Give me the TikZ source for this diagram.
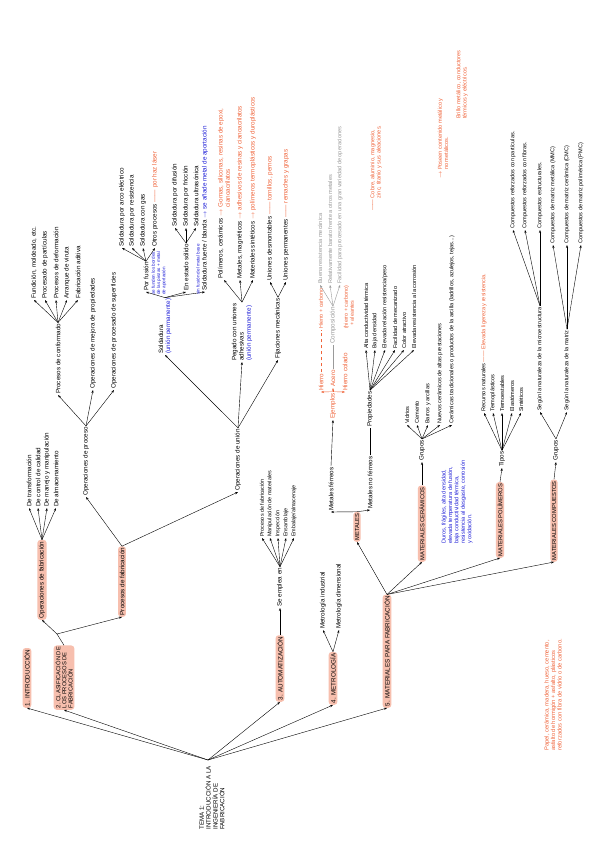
\documentclass[tikz,border=0pt]{standalone}
\usepackage{fontspec}
\setmainfont{Liberation Sans}
\usetikzlibrary{arrows.meta}
\definecolor{pinkbox}{HTML}{F7BFAE}
\definecolor{orng}{HTML}{F0643A}
\definecolor{blu}{HTML}{2020D8}
\definecolor{gry}{HTML}{9A9A9A}
\tikzset{
 tx/.style={rotate=90,anchor=west,inner sep=1pt,font=\fontsize{6.3}{7.2}\selectfont,align=left},
 bx/.style={tx,fill=pinkbox,rounded corners=3pt,inner sep=1.6pt},
 ar/.style={-{Stealth[length=3pt,width=2.2pt]},line width=0.4pt},
 ln/.style={line width=0.4pt},
 oa/.style={ar,orng},
 ga/.style={ar,gry}
}
\begin{document}
\begin{tikzpicture}[x=1pt,y=-1pt]
\useasboundingbox (0,0) rectangle (600,848);
\fill[white] (0,0) rectangle (600,848);
% root
\node[tx,anchor=center,font=\fontsize{6.2}{6.8}\selectfont] (root) at (212,798) {TEMA 1:\\INTRODUCCIÓN A LA\\INGENIERÍA DE\\FABRICACIÓN};
\coordinate (r0) at (208,760);
% level 1
\node[bx] (i1) at (27,708) {1. INTRODUCCIÓN};
\node[bx,font=\fontsize{5.8}{6.2}\selectfont] (i2) at (64,710) {2. CLASIFICACIÓN DE\\LOS PROCESOS DE\\FABRICACIÓN};
\node[bx] (i3) at (280,702) {3. AUTOMATIZACIÓN};
\node[bx] (i4) at (333,705) {4. METROLOGÍA};
\node[bx] (i5) at (387,708) {5. MATERIALES PARA FABRICACIÓN};
\foreach \n in {i1,i2,i3,i4,i5} \draw[ar] (r0) -- (\n.west);
% 2
\node[bx] (opf) at (42,620) {Operaciones de fabricación};
\node[bx] (prf) at (122,617) {Procesos de fabricación};
\coordinate (j2) at (57,634);
\draw[ln] (i2.east) -- (j2); \draw[ar] (j2) -- (opf.west); \draw[ar] (j2) -- (prf.west);
\node[tx] (a1) at (29,508) {De transformación};
\node[tx] (a2) at (38,508) {De control de calidad};
\node[tx] (a3) at (47,508) {De manejo y manipulación};
\node[tx] (a4) at (56,508) {De almacenamiento};
\foreach \n in {a1,a2,a3,a4} \draw[ar] (opf.east) -- (\n.west);
\node[tx] (op) at (86,497) {Operaciones de proceso};
\node[tx] (ou) at (238,492) {Operaciones de unión};
\draw[ar] (prf.east) -- (op.west); \draw[ar] (prf.east) -- (ou.west);
\node[tx] (pc) at (58,395) {Procesos de conformado};
\node[tx] (om) at (93,390) {Operaciones de mejora de propiedades};
\node[tx] (os) at (114,390) {Operaciones de procesado de superficies};
\foreach \n in {pc,om,os} \draw[ar] (op.east) -- (\n.west);
\node[tx] (c1) at (34,300) {Fundición, moldeado, etc.};
\node[tx] (c2) at (45,300) {Procesado de partículas};
\node[tx] (c3) at (56,300) {Procesos de deformación};
\node[tx] (c4) at (67,300) {Arranque de viruta};
\node[tx] (c5) at (78,300) {Fabricación aditiva};
\foreach \n in {c1,c2,c3,c4,c5} \draw[ar] (pc.east) -- (\n.west);
% union
\node[tx] (sol) at (165,355) {Soldadura\\{\color{blu}(unión permanente)}};
\node[tx] (peg) at (242,362) {Pegado con uniones\\adhesivas\\{\color{blu}(unión permanente)}};
\node[tx] (fij) at (278,360) {Fijaciones mecánicas};
\foreach \n in {sol,peg,fij} \draw[ar] (ou.east) -- (\n.west);
\node[tx] (pf) at (146,292) {Por fusión};
\node[tx] (ee) at (186,292) {En estado sólido};
\node[tx] (sf) at (205,292) {Soldadura fuerte / blanda {\color{blu}$\rightarrow$ se añade metal de aportación}};
\foreach \n in {pf,ee,sf} \draw[ar] (sol.east) -- (\n.west);
\node[tx,text=blu,font=\fontsize{4.6}{5.2}\selectfont] (pfn) at (159,296) {se funden los bordes\\de las piezas + metal\\de aportación};
\node[tx,text=blu,font=\fontsize{4.6}{5.2}\selectfont] (een) at (198,296) {sin fusión del metal base};
\node[tx] (p1) at (122,248) {Soldadura por arco eléctrico};
\node[tx] (p2) at (132,248) {Soldadura por resistencia};
\node[tx] (p3) at (143,248) {Soldadura con gas};
\node[tx] (p4) at (155,248) {Otros procesos {\color{orng}—— por haz láser}};
\foreach \n in {p1,p2,p3,p4} \draw[ar] (pf.east) -- (\n.west);
\node[tx] (e1) at (175,228) {Soldadura por difusión};
\node[tx] (e2) at (186,228) {Soldadura por fricción};
\node[tx] (e3) at (196,228) {Soldadura ultrasónica};
\foreach \n in {e1,e2,e3} \draw[ar] (ee.east) -- (\n.west);
\node[tx] (g1) at (224,280) {Polímeros, cerámicos {\color{orng}$\rightarrow$ Gomas, siliconas, resinas de epoxi,}\\\hphantom{Polímeros, cerámicos $\rightarrow$ }{\color{orng}cianoacrilatos}};
\node[tx] (g2) at (240,280) {Metales, magnéticos {\color{orng}$\rightarrow$ adhesivos de resinas y cianoacrilatos}};
\node[tx] (g3) at (253,280) {Materiales sintéticos {\color{orng}$\rightarrow$ polímeros termoplásticos y duroplásticos}};
\foreach \n in {g1,g2,g3} \draw[ar] (peg.east) -- (\n.west);
\node[tx] (f1) at (270,282) {Uniones desmontables {\color{orng}—— tornillos, pernos}};
\node[tx] (f2) at (286,282) {Uniones permanentes {\color{orng}—— remaches y grapas}};
\foreach \n in {f1,f2} \draw[ar] (fij.east) -- (\n.west);
% 3
\node[tx] (se) at (280,608) {Se emplea en};
\draw[ar] (i3.east) -- (se.west);
\node[tx,font=\fontsize{5.4}{6}\selectfont] (u1) at (262,538) {Procesos de fabricación};
\node[tx,font=\fontsize{5.4}{6}\selectfont] (u2) at (270,538) {Manipulación de materiales};
\node[tx,font=\fontsize{5.4}{6}\selectfont] (u3) at (278,538) {Inspección};
\node[tx,font=\fontsize{5.4}{6}\selectfont] (u4) at (286,538) {Ensamblaje};
\node[tx,font=\fontsize{5.4}{6}\selectfont] (u5) at (294,538) {Embalaje/almacenaje};
\foreach \n in {u1,u2,u3,u4,u5} \draw[ar] (se.east) -- (\n.west);
% 4
\node[tx] (m1) at (323,630) {Metrología industrial};
\node[tx] (m2) at (339,630) {Metrología dimensional};
\foreach \n in {m1,m2} \draw[ar] (i4.east) -- (\n.west);
% 5
\node[bx,font=\fontsize{5.8}{6.4}\selectfont] (met) at (357,542) {METALES};
\node[bx,font=\fontsize{5.8}{6.4}\selectfont] (cer) at (422,562) {MATERIALES CERÁMICOS};
\node[bx,font=\fontsize{5.8}{6.4}\selectfont] (pol) at (500,558) {MATERIALES POLÍMEROS};
\node[bx,font=\fontsize{5.8}{6.4}\selectfont] (com) at (554,562) {MATERIALES COMPUESTOS};
\foreach \n in {met,cer,pol,com} \draw[ar] (i5.east) -- (\n.west);
\node[tx] (mf) at (331,512) {Metales férreos};
\node[tx] (mn) at (370,510) {Metales no férreos};
\foreach \n in {mf,mn} \draw[ar] (met.east) -- (\n.west);
\node[tx,text=orng] (ej) at (333,420) {Ejemplos};
\draw[ar] (mf.east) -- (ej.west);
\node[tx,text=orng] (h1) at (321,392) {Hierro};
\node[tx,text=orng] (h2) at (333,388) {Acero};
\node[tx,text=orng] (h3) at (345,392) {Hierro colado};
\foreach \n in {h1,h2,h3} \draw[oa] (ej.east) -- (\n.west);
\node[tx,text=orng,font=\fontsize{5.4}{6}\selectfont] (h1n) at (321,330) {Hierro + carbono};
\draw[orng,ln,dashed] (h1.east) -- (h1n.west);
\node[tx,text=orng,font=\fontsize{5.4}{6}\selectfont] (h3n) at (349,330) {(hierro + carbono)\\\ \ + aleantes};
\node[tx,text=gry] (cmp) at (333,345) {Composición};
\draw[ln,gry] (h2.east) -- (cmp.west);
\node[tx,text=gry,font=\fontsize{5.6}{6.2}\selectfont] (k1) at (320,285) {Buena resistencia mecánica};
\node[tx,text=gry,font=\fontsize{5.6}{6.2}\selectfont] (k2) at (330,285) {Relativamente barato frente a otros metales};
\node[tx,text=gry,font=\fontsize{5.6}{6.2}\selectfont] (k3) at (340,285) {Facilidad para procesado en una gran variedad de operaciones};
\foreach \n in {k1,k2,k3} \draw[ga] (cmp.east) -- (\n.west);
\node[tx] (prp) at (370,428) {Propiedades};
\draw[ln] (mn.east) -- (prp.west);
\node[tx,font=\fontsize{5.6}{6.2}\selectfont] (q1) at (366,350) {Alta conductividad térmica};
\node[tx,font=\fontsize{5.6}{6.2}\selectfont] (q2) at (375,350) {Baja densidad};
\node[tx,font=\fontsize{5.6}{6.2}\selectfont] (q3) at (385,350) {Elevada relación resistencia/peso};
\node[tx,font=\fontsize{5.6}{6.2}\selectfont] (q4) at (395,350) {Facilidad de mecanizado};
\node[tx,font=\fontsize{5.6}{6.2}\selectfont] (q5) at (404,350) {Color atractivo};
\node[tx,font=\fontsize{5.6}{6.2}\selectfont] (q6) at (414,350) {Elevada resistencia a la corrosión};
\foreach \n in {q1,q2,q3,q4,q5,q6} \draw[ar] (prp.east) -- (\n.west);
\node[tx,text=orng,font=\fontsize{5.6}{6.2}\selectfont] (mnx) at (376,212) {—— Cobre, aluminio, magnesio,\\\hphantom{—— }zinc, titanio y sus aleaciones.};
% ceramicos
\node[tx] (cg) at (422,462) {Grupos};
\draw[ar] (cer.east) -- (cg.west);
\node[tx,text=blu,font=\fontsize{5.6}{6.4}\selectfont] (cbn) at (457,545) {Duros, frágiles, alta densidad,\\elevada temperatura de fusión,\\baja conductividad térmica,\\resistencia al desgaste, corrosión\\y oxidación.};
\node[tx,font=\fontsize{5.6}{6.2}\selectfont] (v1) at (407,425) {Vidrios};
\node[tx,font=\fontsize{5.6}{6.2}\selectfont] (v2) at (417,425) {Cemento};
\node[tx,font=\fontsize{5.6}{6.2}\selectfont] (v3) at (428,425) {Barros y arcillas};
\node[tx,font=\fontsize{5.6}{6.2}\selectfont] (v4) at (440,425) {Nuevos cerámicos de altas prestaciones};
\node[tx,font=\fontsize{5.6}{6.2}\selectfont] (v5) at (452,425) {Cerámicas tradicionales o productos de la arcilla (ladrillos, azulejos, tejas...)};
\foreach \n in {v1,v2,v3,v4,v5} \draw[ar] (cg.east) -- (\n.west);
\node[tx,text=orng,font=\fontsize{5.6}{6.2}\selectfont] (vx1) at (443,180) {$\rightarrow$ Poseen contenido metálico y\\\hphantom{$\rightarrow$ }no metálicos.};
\node[tx,text=orng,font=\fontsize{5.6}{6.2}\selectfont] (vx2) at (462,120) {Brillo metálico, conductores\\térmicos y eléctricos.};
% polimeros
\node[tx] (pt) at (502,468) {Tipos};
\draw[ar] (pol.east) -- (pt.west);
\node[tx,font=\fontsize{5.6}{6.2}\selectfont] (t1) at (484,413) {Recursos naturales {\color{orng}—— Elevada ligereza y resistencia.}};
\node[tx,font=\fontsize{5.6}{6.2}\selectfont] (t2) at (493,413) {Termoplásticos};
\node[tx,font=\fontsize{5.6}{6.2}\selectfont] (t3) at (502,413) {Termoestables};
\node[tx,font=\fontsize{5.6}{6.2}\selectfont] (t4) at (512,413) {Elastómeros};
\node[tx,font=\fontsize{5.6}{6.2}\selectfont] (t5) at (521,413) {Sintéticos};
\foreach \n in {t1,t2,t3,t4,t5} \draw[ar] (pt.east) -- (\n.west);
% compuestos
\node[tx] (kg) at (556,462) {Grupos};
\draw[ar] (com.east) -- (kg.west);
\node[tx,font=\fontsize{5.6}{6.2}\selectfont] (s1) at (540,412) {Según la naturaleza de la microestructura};
\node[tx,font=\fontsize{5.6}{6.2}\selectfont] (s2) at (567,412) {Según la naturaleza de la matriz};
\foreach \n in {s1,s2} \draw[ar] (kg.east) -- (\n.west);
\node[tx,font=\fontsize{5.6}{6.2}\selectfont] (x1) at (513,230) {Compuestos reforzados con partículas.};
\node[tx,font=\fontsize{5.6}{6.2}\selectfont] (x2) at (525,230) {Compuestos reforzados con fibras.};
\node[tx,font=\fontsize{5.6}{6.2}\selectfont] (x3) at (540,230) {Compuestos estructurales.};
\foreach \n in {x1,x2,x3} \draw[ar] (s1.east) -- (\n.west);
\node[tx,font=\fontsize{5.6}{6.2}\selectfont] (y1) at (553,245) {Compuestos de matriz metálica (MMC)};
\node[tx,font=\fontsize{5.6}{6.2}\selectfont] (y2) at (567,245) {Compuestos de matriz cerámica (CMC)};
\node[tx,font=\fontsize{5.6}{6.2}\selectfont] (y3) at (581,245) {Compuestos de matriz polimérica (PMC)};
\foreach \n in {y1,y2,y3} \draw[ar] (s2.east) -- (\n.west);
\node[tx,text=orng,font=\fontsize{5.8}{6.6}\selectfont] (cn) at (553,752) {Papel, cerámica, madera, hueso, cemento,\\asfalto de hormigón + asfalto, plásticos\\reforzados con fibra de vidrio o de carbono.};
\end{tikzpicture}
\end{document}
